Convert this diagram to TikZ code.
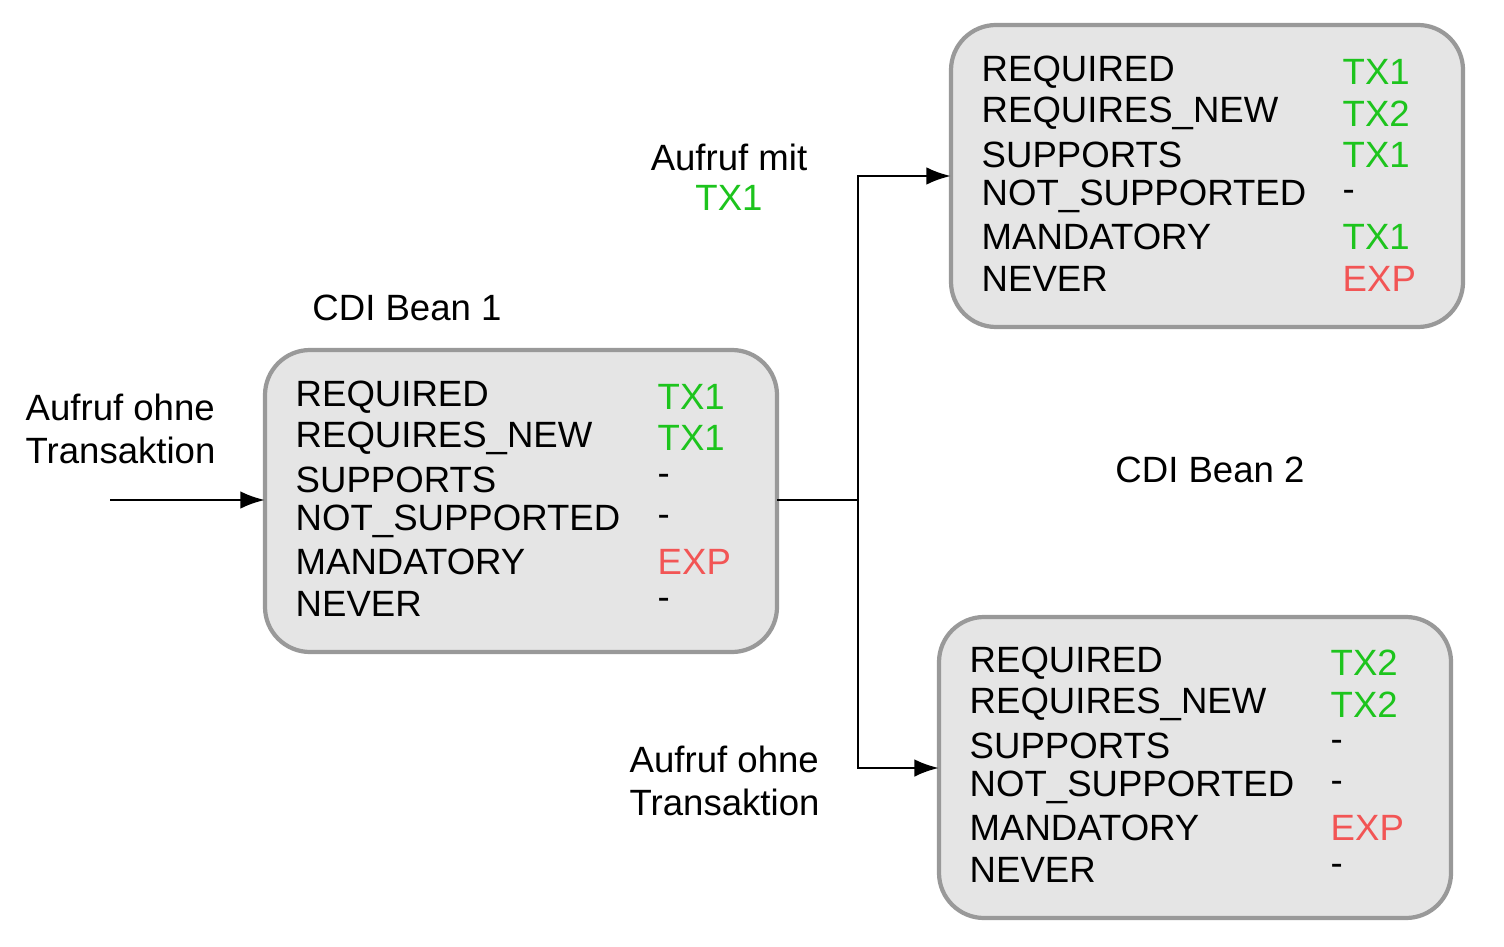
\documentclass[tikz,border=0pt]{standalone}
\usepackage{fontspec}
\setmainfont{Liberation Sans}
\usetikzlibrary{arrows.meta}
\definecolor{gr}{HTML}{1DC41D}
\definecolor{rd}{HTML}{F25555}
\definecolor{boxfill}{HTML}{E5E5E5}
\definecolor{boxline}{HTML}{999999}
\begin{document}
\begin{tikzpicture}[x=0.01cm,y=-0.01cm,
  bean/.style={draw=boxline,fill=boxfill,line width=1.2pt,rounded corners=0.45cm},
  t/.style={anchor=west,inner sep=0,font=\fontsize{10.4pt}{12pt}\selectfont},
  lab/.style={inner sep=0,font=\fontsize{10.4pt}{12.2pt}\selectfont,align=left},
  arr/.style={-{Latex[length=7pt,width=5pt]},line width=0.8pt}]
\useasboundingbox (0,0) rectangle (1504,946);
\draw[bean] (265,350) rectangle (777,652);
\draw[bean] (951,25) rectangle (1463,327);
\draw[bean] (939,617) rectangle (1451,918);
\coordinate (b1w) at (265,500);
\coordinate (b1e) at (777,500);
\coordinate (b2w) at (951,176);
\coordinate (b3w) at (939,768);
\coordinate (start) at (110,500);
\coordinate (j) at (858,500);
\def\rows#1#2#3#4#5#6#7#8#9{%
  \foreach \n/\c/\v [count=\i from 0] in {#4} {
    \node[t] (#9l\i) at (#1,#3+\i*41.3) {\n};
    \node[t,text=\c] (#9r\i) at (#2,#3+\i*41.3) {\v};
  }}
\rows{295}{657}{397}{REQUIRED/gr/TX1,REQUIRES\_NEW/gr/TX1,SUPPORTS/black/-,NOT\_SUPPORTED/black/-,MANDATORY/rd/EXP,NEVER/black/-}{}{}{}{}{a}
\rows{981}{1342}{72}{REQUIRED/gr/TX1,REQUIRES\_NEW/gr/TX2,SUPPORTS/gr/TX1,NOT\_SUPPORTED/black/-,MANDATORY/gr/TX1,NEVER/rd/EXP}{}{}{}{}{b}
\rows{969}{1330}{663}{REQUIRED/gr/TX2,REQUIRES\_NEW/gr/TX2,SUPPORTS/black/-,NOT\_SUPPORTED/black/-,MANDATORY/rd/EXP,NEVER/black/-}{}{}{}{}{c}
\node[lab,anchor=west] (l1) at (25,429) {Aufruf ohne\\Transaktion};
\node[lab] (cdi1) at (407,308) {CDI Bean 1};
\node[lab] (am) at (729,157) {Aufruf mit};
\node[lab,text=gr] (amtx) at (729,198) {TX1};
\node[lab] (cdi2) at (1210,470) {CDI Bean 2};
\node[lab,anchor=west] (l2) at (629,781) {Aufruf ohne\\Transaktion};
\draw[arr] (start) -- (b1w);
\draw[line width=0.8pt] (b1e) -- (j);
\draw[arr] (j) |- (b2w);
\draw[arr] (j) |- (b3w);
\end{tikzpicture}
\end{document}
